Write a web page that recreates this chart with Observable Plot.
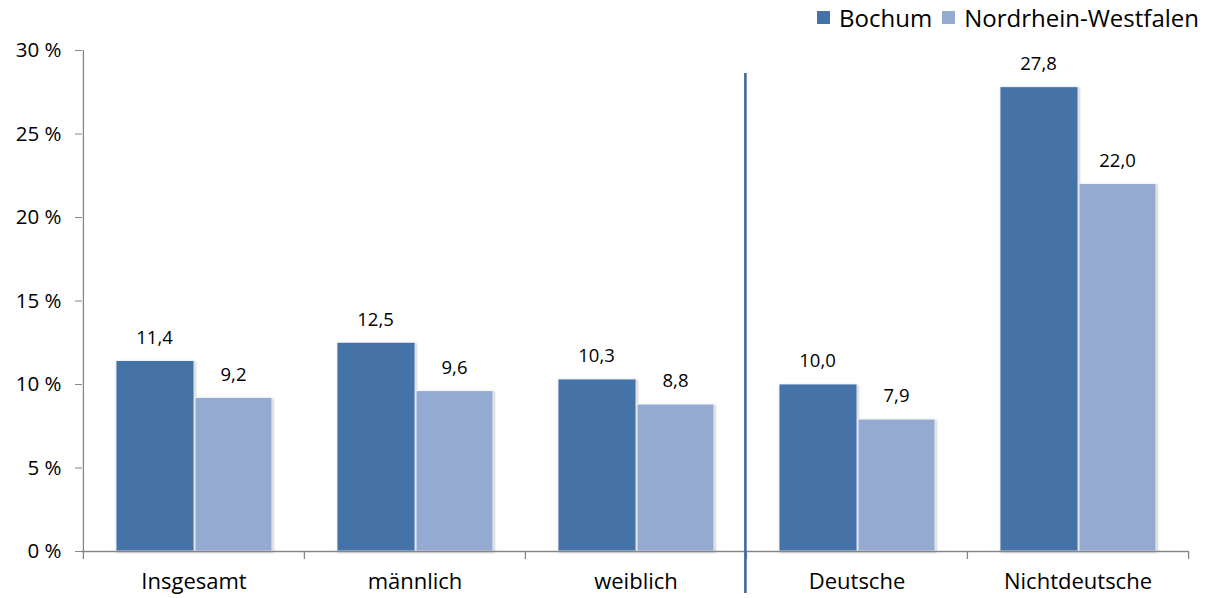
<!DOCTYPE html>
<html><head><meta charset="utf-8">
<script src="https://cdn.jsdelivr.net/npm/d3@7"></script>
<script src="https://cdn.jsdelivr.net/npm/@observablehq/plot@0.6"></script>
<style>
body{margin:0;background:#fff;font-family:"Open Sans",Lato,sans-serif;}
#wrap{position:relative;width:1210px;height:598px;}
#legend{position:absolute;top:1px;right:11px;font-size:24px;color:#000;display:flex;align-items:center;gap:0;white-space:nowrap;}
#legend .sw{display:inline-block;width:13px;height:13px;margin-right:9px;}
#legend .item{display:flex;align-items:center;margin-left:10px;}
g[aria-label="bar"] rect{filter:drop-shadow(1.5px 1px 1px rgba(0,0,0,0.25));}
</style></head>
<body><div id="wrap"><div id="legend"></div></div>
<script>
const categories = ["Insgesamt", "männlich", "weiblich", "Deutsche", "Nichtdeutsche"];
const bochum = [11.4, 12.5, 10.3, 10.0, 27.8];
const nrw = [9.2, 9.6, 8.8, 7.9, 22.0];
const seriesNames = ["Bochum", "Nordrhein-Westfalen"];
const seriesColors = ["#4572A7", "#95AAD1"];
const yTicks = [0, 5, 10, 15, 20, 25, 30];

const fmt = v => v.toFixed(1).replace(".", ",");
const rowsB = categories.map((c, i) => ({cat: c, value: bochum[i]}));
const rowsN = categories.map((c, i) => ({cat: c, value: nrw[i]}));

const W = 1210, ML = 82, MR = 22;
const half = (W - ML - MR) / categories.length / 2;
const axisGray = "#868686";
const FONT = "'Open Sans', Lato, sans-serif";

const chart = Plot.plot({
  width: W, height: 598,
  marginLeft: ML, marginRight: MR, marginTop: 50, marginBottom: 47,
  style: {fontFamily: FONT, fontSize: "18px", color: "#000", background: "transparent"},
  x: {domain: categories, padding: 0, label: null},
  y: {domain: [0, 30], label: null},
  marks: [
    Plot.axisY({ticks: yTicks, tickFormat: d => d + " %", tickSize: 7, tickPadding: 14, stroke: axisGray, fontSize: 20.5, label: null}),
    Plot.axisX({tickSize: 0, tickPadding: 22, fontSize: 22, label: null}),
    Plot.barY(rowsB, {x: "cat", y: "value", fill: seriesColors[0], insetLeft: 33, insetRight: 110, stroke: "white", strokeWidth: 0.8}),
    Plot.barY(rowsN, {x: "cat", y: "value", fill: seriesColors[1], insetLeft: 112, insetRight: 32, stroke: "white", strokeWidth: 0.8}),
    Plot.ruleY([0], {stroke: axisGray, strokeWidth: 1.3}),
    Plot.ruleX([categories[0]], {dx: -half, y1: 0, y2: 30, stroke: axisGray, strokeWidth: 1.3}),
    Plot.ruleX(categories, {x: d => d, dx: -half, y: 0, insetTop: 0, insetBottom: -8, stroke: axisGray, strokeWidth: 1.3}),
    Plot.ruleX([categories[categories.length - 1]], {dx: half, y: 0, insetBottom: -8, stroke: axisGray, strokeWidth: 1.3}),
    Plot.ruleX([categories[3]], {dx: -half - 1, insetTop: 23, insetBottom: -42, stroke: "#41699E", strokeWidth: 2.6}),
    Plot.text(rowsB, {x: "cat", y: "value", text: d => fmt(d.value), dx: -39.5, dy: -23, fontSize: 18.5, fill: "#000"}),
    Plot.text(rowsN, {x: "cat", y: "value", text: d => fmt(d.value), dx: 39.5, dy: -23, fontSize: 18.5, fill: "#000"})
  ]
});
document.getElementById("wrap").appendChild(chart);

const legend = document.getElementById("legend");
seriesNames.forEach((n, i) => {
  const it = document.createElement("span");
  it.className = "item";
  it.innerHTML = `<span class="sw" style="background:${seriesColors[i]}"></span>${n}`;
  legend.appendChild(it);
});
</script></body></html>
